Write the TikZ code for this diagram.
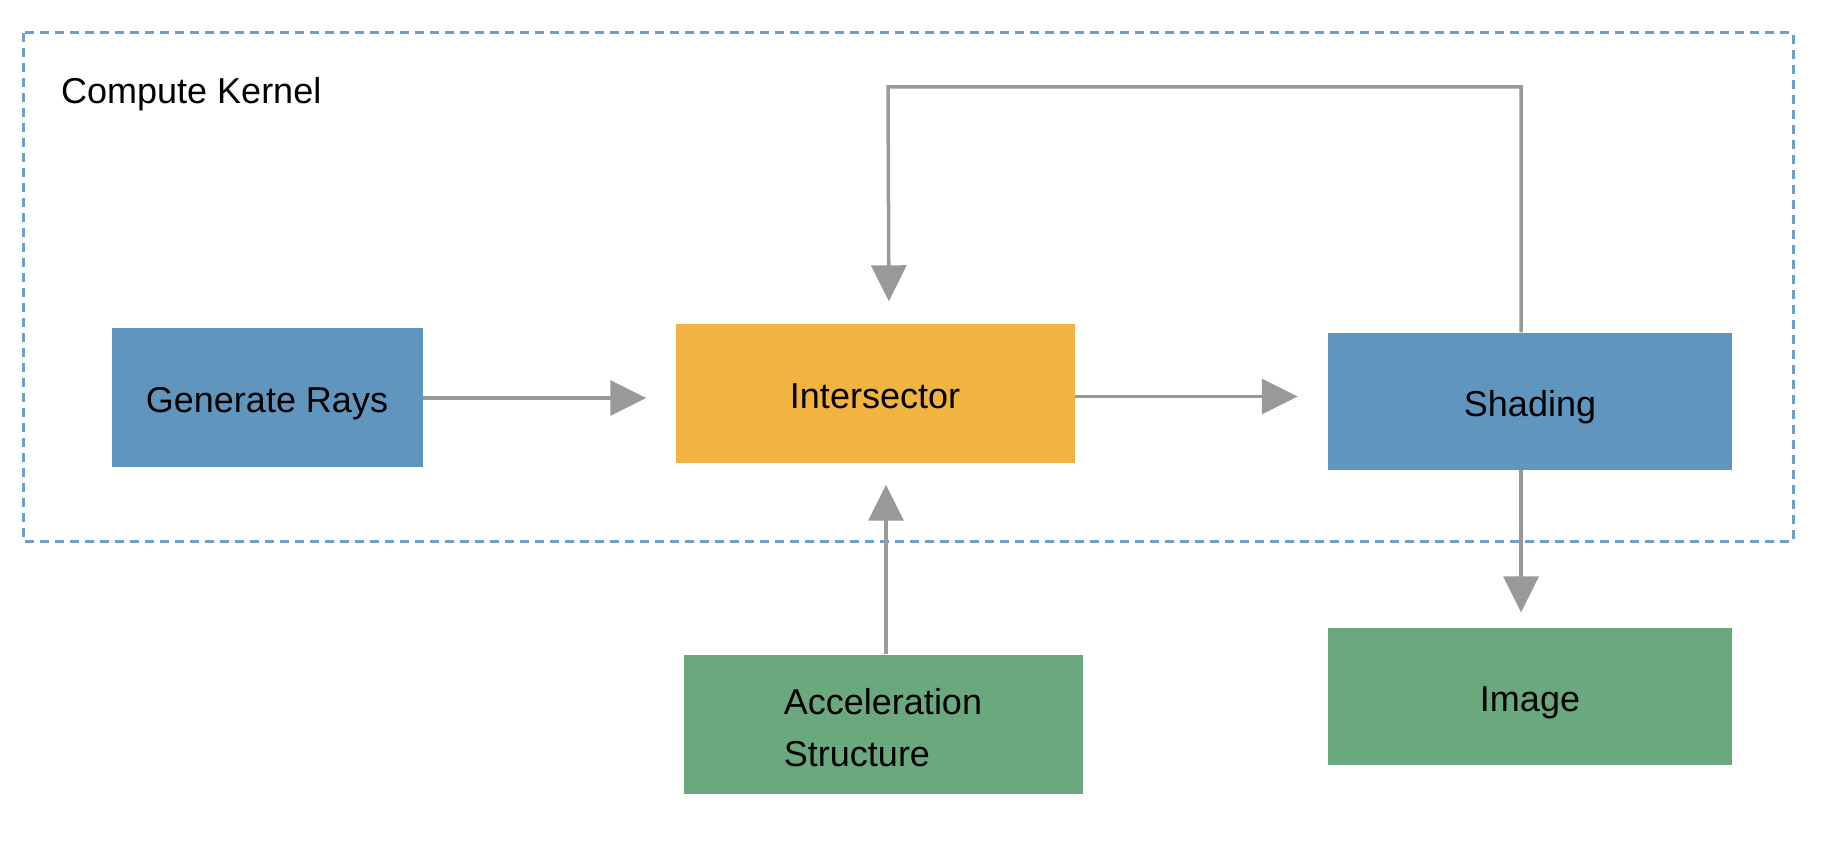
\documentclass[tikz,border=0pt]{standalone}
\usepackage{fontspec}
\setmainfont{Liberation Sans}
\usetikzlibrary{arrows.meta,calc}
\definecolor{boxblue}{HTML}{6096BE}
\definecolor{boxorange}{HTML}{F2B440}
\definecolor{boxgreen}{HTML}{6AA87E}
\definecolor{arrgray}{HTML}{999999}
\definecolor{dashblue}{HTML}{6A9FD0}
\begin{document}
\begin{tikzpicture}[x=1pt,y=-1pt,
  blk/.style={draw=none,inner sep=0pt,anchor=center,font=\fontsize{36}{52}\selectfont,text=black},
  oneline/.style={text height=30pt,text depth=0pt},
  arr/.style={draw=arrgray,line width=3.5pt,-{Triangle[length=36pt,width=35pt]}},
  kernel/.style={draw=dashblue,line width=3pt,dash pattern=on 9pt off 6pt}]
\useasboundingbox (0,0) rectangle (1826,848);
\fill[white] (0,0) rectangle (1826,848);
\draw[kernel] (23,33) rectangle (1793,541);
\node[anchor=base west,inner sep=0pt,font=\fontsize{36}{44}\selectfont] (title) at (61,104) {Compute Kernel};
\node[blk,oneline,fill=boxblue,minimum width=311pt,minimum height=139pt] (gen) at (267,397) {Generate Rays};
\node[blk,oneline,fill=boxorange,minimum width=399pt,minimum height=139pt] (int) at (875,393) {Intersector};
\node[blk,oneline,fill=boxblue,minimum width=404pt,minimum height=137pt] (sha) at (1530,401) {Shading};
\node[blk,text height=84pt,text depth=0pt,fill=boxgreen,minimum width=399pt,minimum height=139pt,align=left] (acc) at (883,724) {Acceleration\\Structure};
\node[blk,oneline,fill=boxgreen,minimum width=404pt,minimum height=137pt] (img) at (1530,696) {Image};
\coordinate (fbr) at (1521,87);
\coordinate (fbl) at (888,87);
\draw[arr,shorten >=29pt] ([yshift=-1pt]gen.east) -- ([yshift=-1pt]gen.east -| int.west);
\draw[arr,shorten >=30pt] ([yshift=-3.5pt]int.east) -- ([yshift=-3.5pt]int.east -| sha.west);
\draw[arr,shorten >=22pt] (fbr |- sha.north) -- (fbr) -- (fbl) -- ([xshift=14pt]int.north);
\draw[arr,shorten >=22pt] ([xshift=3pt]acc.north) -- ([xshift=11pt]int.south);
\draw[arr,shorten >=15pt] (fbr |- sha.south) -- (fbr |- img.north);
\end{tikzpicture}
\end{document}
